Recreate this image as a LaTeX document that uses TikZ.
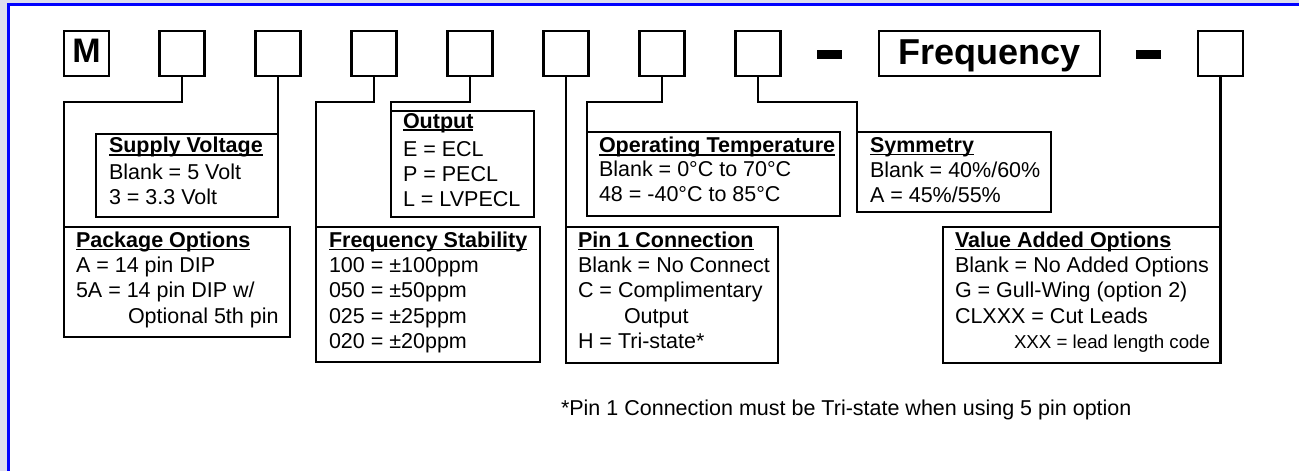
\documentclass[tikz,border=0pt]{standalone}
\usepackage{fontspec}
\setmainfont{Liberation Sans}
\newsavebox\hdbox
\newcommand\hdul[1]{\sbox\hdbox{\bfseries #1}\rlap{\rule[-3pt]{\wd\hdbox}{1.6pt}}\usebox\hdbox}
\definecolor{lav}{RGB}{221,221,238}
\definecolor{frameblue}{RGB}{0,0,255}
\begin{document}
\begin{tikzpicture}[x=1pt,y=-1pt,
  box/.style={draw=black,line width=2.5pt,inner sep=0pt,outer sep=0pt,anchor=north west},
  digit/.style={draw=black,line width=2.5pt,inner sep=0pt,outer sep=0pt,minimum width=45pt,minimum height=45pt},
  conn/.style={draw=black,line width=2.3pt},
  body/.style={anchor=base west,inner sep=0pt,outer sep=0pt,font=\fontsize{21.5}{25.3}\selectfont},
  big/.style={anchor=base,inner sep=0pt,outer sep=0pt},
  dashbar/.style={fill=black,inner sep=0pt,outer sep=0pt,minimum width=25pt,minimum height=9pt},
]
% background and frame
\fill[lav] (0,0) rectangle (1299,471);
\fill[white] (8.5,4.5) rectangle (1299,471);
\useasboundingbox (0,0) rectangle (1299,471);
\draw[frameblue,line width=3pt] (8.5,3) -- (8.5,471);
\draw[frameblue,line width=3pt] (7,4.5) -- (1299,4.5);

% top row
\node[digit] (b1) at (86.5,53.5) {};
\node[digit] (b2) at (182,53.5) {};
\node[digit] (b3) at (278,53.5) {};
\node[digit] (b4) at (374,53.5) {};
\node[digit] (b5) at (470,53.5) {};
\node[digit] (b6) at (566,53.5) {};
\node[digit] (b7) at (662,53.5) {};
\node[digit] (b8) at (758,53.5) {};
\node[digit,minimum width=221pt] (fq) at (989.5,53.5) {};
\node[digit] (last) at (1220.5,53.5) {};
\node[big,font=\fontsize{34}{34}\selectfont\bfseries] (mt) at (86.5,62.5) {M};
\node[big,font=\fontsize{36}{36}\selectfont\bfseries] (fqt) at (989.5,64.3) {Frequency};
\node[dashbar] (d1) at (829.5,54.5) {};
\node[dashbar] (d2) at (1148.5,54.5) {};

% option boxes
\node[box,minimum width=182pt,minimum height=83pt] (sv) at (96,134) {};
\node[box,minimum width=143pt,minimum height=106pt] (out) at (391,111) {};
\node[box,minimum width=226pt,minimum height=110pt] (pkg) at (64,227) {};
\node[box,minimum width=224pt,minimum height=135pt] (fs) at (316,227) {};
\node[box,minimum width=212pt,minimum height=136pt] (pin) at (566,227) {};
\node[box,minimum width=253pt,minimum height=84pt] (ot) at (587,132) {};
\node[box,minimum width=194pt,minimum height=80pt] (sym) at (857,132) {};
\node[box,minimum width=277.5pt,minimum height=136pt] (vao) at (943,227) {};

% connectors
\coordinate (lvl) at (0,102);
\draw[conn] (b2.south) -- (b2.south |- lvl) -| (pkg.north west);
\draw[conn] (b3.south) -- (sv.north east);
\draw[conn] (b4.south) -- (b4.south |- lvl) -| (fs.north west);
\draw[conn] (b5.south) -- (b5.south |- lvl) -| (out.north west);
\draw[conn] (b6.south) -- (pin.north west);
\draw[conn] (b7.south) -- (b7.south |- lvl) -| (ot.north west);
\draw[conn] (b8.south) -- (b8.south |- lvl) -| (sym.north west);
\draw[conn] (last.south) -- (vao.north east);

% texts
\node[body] (svt) at (109,152.7) {\begin{tabular}[t]{@{}l@{}}\hdul{Supply Voltage}\\[1pt]Blank = 5 Volt\\3 = 3.3 Volt\end{tabular}};
\node[body] (outt) at (403,128) {\begin{tabular}[t]{@{}l@{}}\hdul{Output}\\[2.7pt]E = ECL\\P = PECL\\L = LVPECL\end{tabular}};
\node[body] (pkgt) at (76,247.3) {\begin{tabular}[t]{@{}l@{}}\hdul{Package Options}\\A = 14 pin DIP\\5A = 14 pin DIP w/\\\hspace*{52pt}Optional 5th pin\end{tabular}};
\node[body] (fst) at (329,247.3) {\begin{tabular}[t]{@{}l@{}}\hdul{Frequency Stability}\\100 = ±100ppm\\050 = ±50ppm\\025 = ±25ppm\\020 = ±20ppm\end{tabular}};
\node[body] (pint) at (578,247.3) {\begin{tabular}[t]{@{}l@{}}\hdul{Pin 1 Connection}\\Blank = No Connect\\C = Complimentary\\\hspace*{46pt}Output\\H = Tri-state*\end{tabular}};
\node[body] (ott) at (599,152.7) {\begin{tabular}[t]{@{}l@{}}\hdul{Operating Temperature}\\[-1.3pt]Blank = 0°C to 70°C\\[-1pt]48 = -40°C to 85°C\end{tabular}};
\node[body] (symt) at (870,152.3) {\begin{tabular}[t]{@{}l@{}}\hdul{Symmetry}\\[-0.6pt]Blank = 40\%/60\%\\A = 45\%/55\%\end{tabular}};
\node[body] (vaot) at (955,247.3) {\begin{tabular}[t]{@{}l@{}}\hdul{Value Added Options}\\Blank = No Added Options\\G = Gull-Wing (option 2)\\CLXXX = Cut Leads\\\hspace*{59pt}{\fontsize{18.7}{25.3}\selectfont XXX = lead length code}\end{tabular}};
\node[body] (note) at (561,415.5) {*Pin 1 Connection must be Tri-state when using 5 pin option};
\end{tikzpicture}
\end{document}
